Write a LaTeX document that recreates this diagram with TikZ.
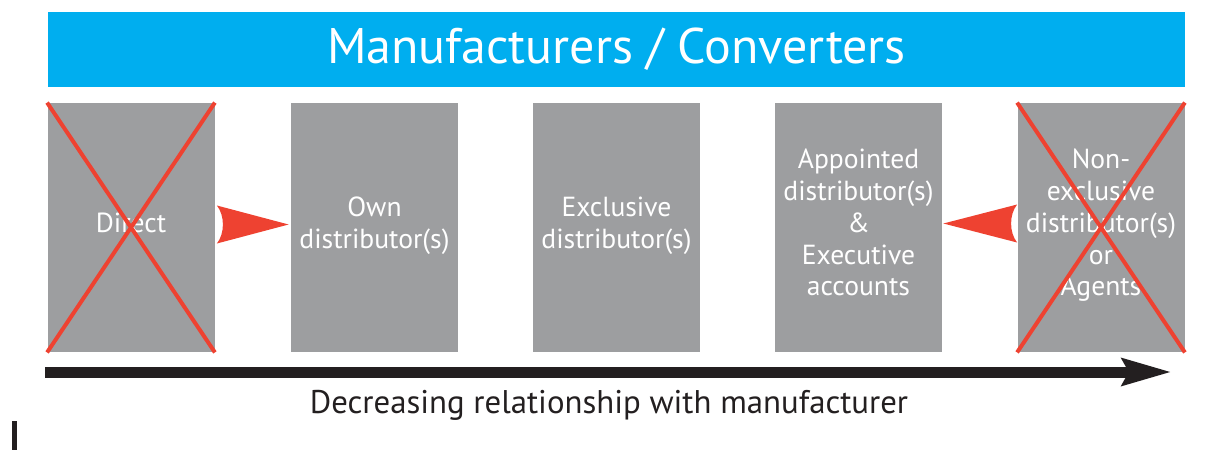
\documentclass[tikz,border=0pt]{standalone}
\usepackage{fontspec}
\setmainfont{PT Sans}
\usetikzlibrary{arrows.meta,calc}
\definecolor{bannercyan}{HTML}{00AEEF}
\definecolor{boxgray}{HTML}{9D9EA0}
\definecolor{crossred}{HTML}{EE4231}
\definecolor{axisblack}{HTML}{231F20}

\begin{document}
\begin{tikzpicture}[x=0.5pt,y=-0.5pt,
    box/.style={fill=boxgray, minimum width=83.5pt, minimum height=124.5pt, inner sep=0pt,
      text=white, align=center, text depth=5pt, font=\fontsize{13.8}{15.9}\selectfont},
    cross/.style={crossred, line width=2pt},
    pointer/.style={fill=crossred},
    axis/.style={axisblack, line width=5.5pt, -{Stealth[length=24.5pt,width=13pt,inset=3pt]}}]
    \useasboundingbox (0,0) rectangle (1211,450);
    \node[fill=bannercyan, minimum width=568.5pt, minimum height=37.5pt, text=white,
      font=\fontsize{25}{30}\selectfont] (banner) at (616.5,49.5) {Manufacturers / Converters};
    \node[box] (direct) at (131,227.5) {Direct};
    \node[box] (own) at (374.5,227.5) {Own\\distributor(s)};
    \node[box] (exclusive) at (616.5,227.5) {Exclusive\\distributor(s)};
    \node[box] (appointed) at (858.5,227.5) {Appointed\\distributor(s)\\\&\\Executive\\accounts};
    \node[box] (nonexcl) at (1101,227.5) {Non-\\exclusive\\distributor(s)\\or\\Agents};
    \draw[cross] (direct.north west) -- (direct.south east);
    \draw[cross] (direct.south west) -- (direct.north east);
    \draw[cross] (nonexcl.north west) -- (nonexcl.south east);
    \draw[cross] (nonexcl.south west) -- (nonexcl.north east);
    \fill[pointer] ($(own.west)+(-2,-3)$) -- ($(direct.east)+(2,-22)$)
      .. controls ($(direct.east)+(10,-12)$) and ($(direct.east)+(10,6)$) .. ($(direct.east)+(2,16)$) -- cycle;
    \fill[pointer] ($(appointed.east)+(1,-4)$) -- ($(nonexcl.west)+(0,-23)$)
      .. controls ($(nonexcl.west)+(-8,-13)$) and ($(nonexcl.west)+(-8,5)$) .. ($(nonexcl.west)+(0,15)$) -- cycle;
    \coordinate (axisstart) at (45,372);
    \coordinate (axisend) at (1172,372);
    \draw[axis] (axisstart) -- (axisend);
    \node[font=\fontsize{16.4}{20}\selectfont, text=axisblack] (caption) at (609,405) {Decreasing relationship with manufacturer};
    \fill[axisblack] (12,421) rectangle (17,450);
\end{tikzpicture}
\end{document}
